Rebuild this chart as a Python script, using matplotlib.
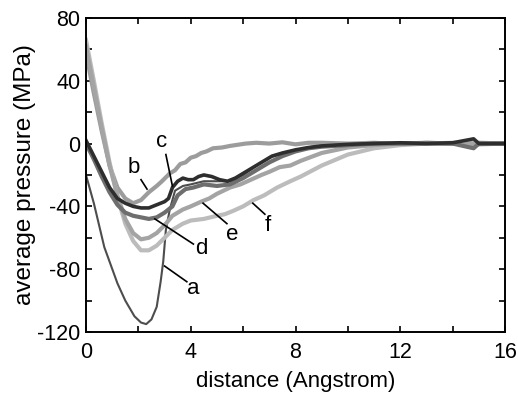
import matplotlib
matplotlib.use("Agg")
import matplotlib.pyplot as plt

plt.rcParams['font.family'] = ['Liberation Sans', 'DejaVu Sans']

# curve a (deep well)
a_x = [0, 0.3, 0.7, 1.2, 1.5, 1.85, 2.1, 2.3, 2.5, 2.7, 2.85, 2.95, 3.05, 3.2, 3.4, 3.7,
       4.0, 4.5, 5.0, 5.5, 6.0, 6.5, 7.0, 7.5, 8.0, 9.0, 10.0, 11.0, 12.0, 14.0, 16.0]
a_y = [-20, -38, -66, -89, -100, -110, -114, -115, -112, -104, -88, -75, -55, -42, -30, -27,
       -26, -24, -24, -24, -20, -14, -9, -6, -4, -2, -1, 0, 0.5, 0, 0]

b_x = [0, 0.3, 0.6, 0.9, 1.2, 1.5, 1.8, 2.1, 2.4, 2.7, 2.9, 3.2, 3.4, 3.6, 3.8, 4.0, 4.2,
       4.4, 4.6, 4.85, 5.2, 5.5, 6.1, 6.5, 7.0, 7.5, 8.0, 8.5, 9.0, 10.0, 11.0, 12.0,
       13.0, 14.0, 15.0, 16.0]
b_y = [58, 32, 8, -14, -28, -35, -38, -36, -31, -27, -24, -19, -17, -13, -12, -9, -8,
       -6, -5, -3, -2.5, -1.5, 0, 0.5, 0, 0.8, -0.5, 0.5, 0.5, 0, 0.5, -0.5,
       0.5, 0, 0.5, 0]

c_x = [0, 0.3, 0.6, 0.9, 1.2, 1.5, 1.8, 2.1, 2.4, 2.7, 3.0, 3.15, 3.3, 3.5, 3.7, 3.9,
       4.1, 4.3, 4.5, 4.8, 5.1, 5.4, 5.7, 6.0, 6.3, 6.7, 7.1, 7.5, 8.0, 8.5, 9.0,
       10.0, 11.0, 12.0, 13.0, 14.0, 14.8, 15.0, 16.0]
c_y = [2, -8, -18, -28, -35, -38, -40, -41, -41, -39, -37, -35, -28, -24, -22, -23,
       -23, -21, -20, -21, -23, -24, -22, -19, -16, -12, -8, -6, -4, -2.5, -1.5,
       -0.5, 0, 0.5, 0, 0.5, 3, 0, 0]

d_x = [0, 0.3, 0.6, 0.9, 1.2, 1.5, 1.8, 2.1, 2.4, 2.7, 3.0, 3.3, 3.5, 3.8, 4.1, 4.5,
       5.0, 5.5, 6.0, 6.5, 7.0, 7.5, 8.0, 8.5, 9.0, 10.0, 11.0, 12.0, 14.0, 14.8, 15.0, 16.0]
d_y = [0, -10, -21, -31, -39, -44, -46, -47, -48, -47, -44, -40, -33, -29, -28, -26,
       -27, -26, -22, -17, -12, -8, -5, -3, -2, -1, 0, 0, 0, -3, 0, 0]

e_x = [0, 0.3, 0.6, 0.9, 1.2, 1.5, 1.8, 2.1, 2.4, 2.7, 3.0, 3.3, 3.7, 4.0, 4.4, 4.7, 5.0,
       5.5, 5.9, 6.3, 6.7, 7.0, 7.4, 7.8, 8.2, 9.0, 10.0, 11.0, 12.0, 13.0, 14.0, 15.0, 16.0]
e_y = [62, 36, 10, -14, -33, -48, -57, -61, -60, -57, -52, -46, -42, -40, -37, -35, -32,
       -28, -26, -23, -20, -18, -15, -14, -11, -6, -2.5, -1, 0, 0.5, 0, -0.5, 0]

f_x = [0, 0.3, 0.6, 0.9, 1.2, 1.5, 1.8, 2.1, 2.4, 2.7, 3.0, 3.3, 3.7, 4.0, 4.5, 5.0,
       5.3, 5.6, 6.0, 6.4, 6.8, 7.3, 7.8, 8.2, 9.0, 10.0, 11.0, 12.0, 13.0, 14.0, 15.0, 16.0]
f_y = [66, 40, 13, -12, -34, -51, -62, -68, -68, -65, -60, -55, -51, -49, -48, -46,
       -45, -43, -40, -36, -33, -28, -24, -21, -14, -7, -3, -1, 0, 0.5, 0, 0]

curves = [
    (a_x, a_y, '#4d4d4d', 1.5),
    (b_x, b_y, '#9c9c9c', 3.0),
    (f_x, f_y, '#bcbcbc', 3.0),
    (e_x, e_y, '#a4a4a4', 3.0),
    (d_x, d_y, '#6e6e6e', 3.0),
    (c_x, c_y, '#2e2e2e', 2.6),
]

# label text position, leader start, leader end
labels = [
    ('a', (4.1, -92), (3.85, -88), (3.0, -78)),
    ('b', (1.83, -15), (2.1, -23), (2.33, -29)),
    ('c', (2.9, 1), (3.05, -7), (3.3, -27)),
    ('d', (4.4, -67), (4.1, -64), (2.63, -48)),
    ('e', (5.6, -58), (5.38, -51), (4.47, -38)),
    ('f', (6.95, -52), (6.83, -45), (6.37, -38)),
]

fig = plt.figure(figsize=(5.18, 3.99), dpi=100)
ax = fig.add_axes([0.166, 0.168, 0.809, 0.787])

for xs, ys, col, lw in curves:
    ax.plot(xs, ys, color=col, lw=lw)

for name, tpos, p0, p1 in labels:
    ax.plot([p0[0], p1[0]], [p0[1], p1[1]], color='black', lw=1.2)
    ax.text(tpos[0], tpos[1], name, fontsize=16, ha='center', va='center')

ax.set_xlim(0, 16)
ax.set_ylim(-120, 80)
ax.set_xticks(range(0, 17, 2))
ax.set_xticklabels([str(v) if v % 4 == 0 else '' for v in range(0, 17, 2)])
ax.set_yticks(range(-120, 81, 20))
ax.set_yticklabels([str(v) if v % 40 == 0 else '' for v in range(-120, 81, 20)])
ax.tick_params(direction='in', top=True, right=True, length=4, width=1.2,
               labelsize=15.5)
ax.tick_params(axis='x', pad=7)
ax.tick_params(axis='y', pad=4)
for s in ax.spines.values():
    s.set_linewidth(1.4)

ax.set_xlabel('distance (Angstrom)', fontsize=16, labelpad=6)
ax.set_ylabel('average pressure (MPa)', fontsize=17.5, labelpad=1)

fig.savefig('out.png', dpi=100)
